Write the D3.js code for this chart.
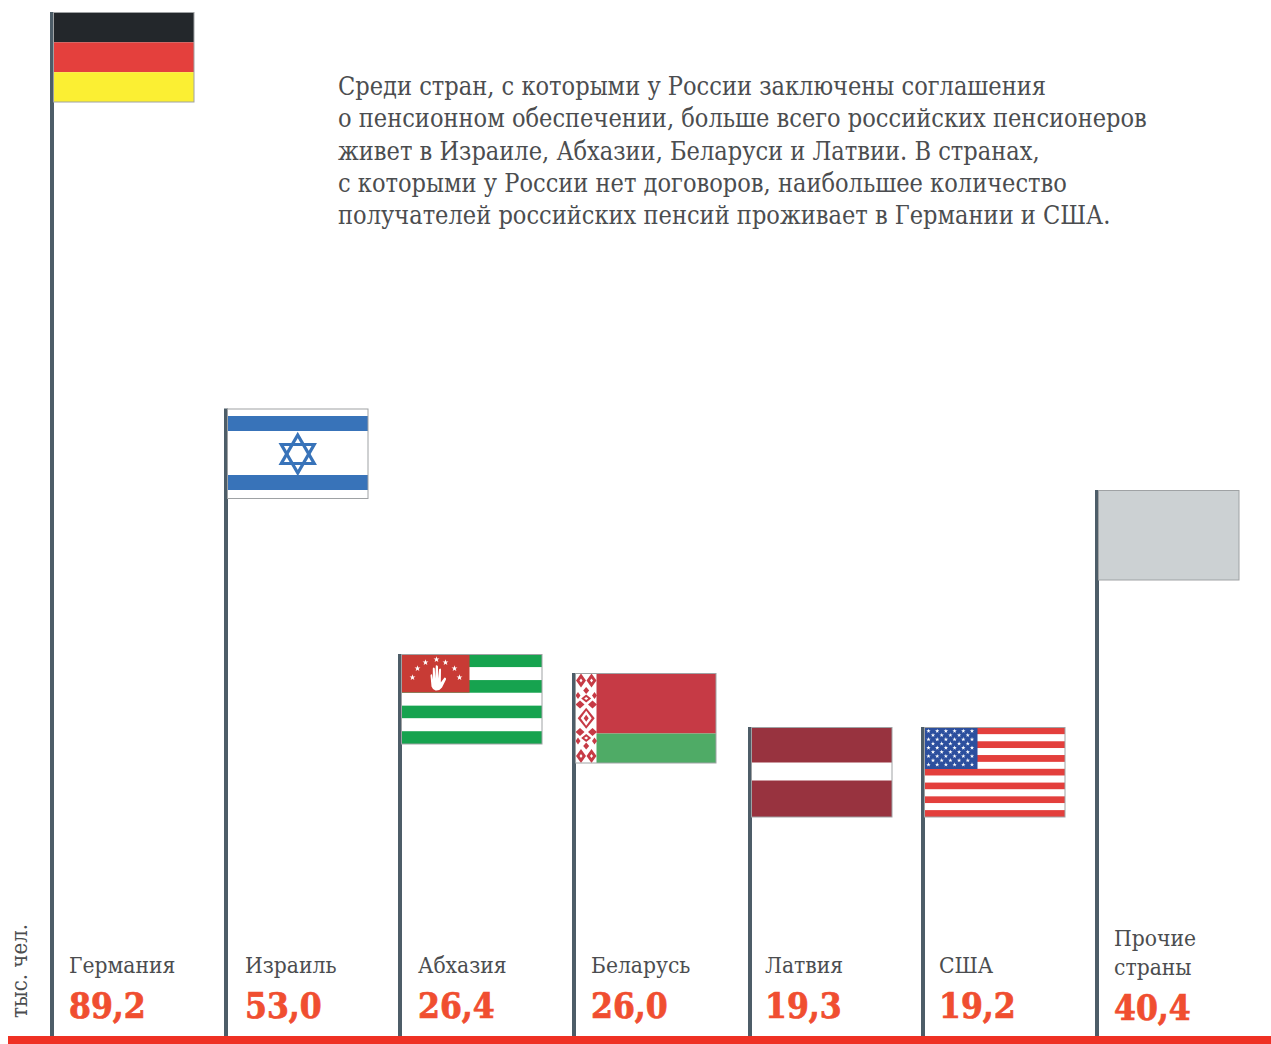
<!DOCTYPE html>
<html lang="ru">
<head>
<meta charset="utf-8">
<title>Российские пенсионеры за рубежом</title>
<script src="https://cdnjs.cloudflare.com/ajax/libs/d3/7.8.5/d3.min.js"></script>
<style>
  html, body { margin: 0; padding: 0; background: #fff; }
  svg { display: block; }
  .txt { font-family: "DejaVu Serif", serif; font-stretch: condensed; fill: #4b4d4f; }
  .val { font-family: "DejaVu Serif", serif; font-stretch: condensed; font-weight: 700; fill: #f04e30; stroke: #f04e30; stroke-width: 0.7px; font-size: 35px; }
</style>
</head>
<body>
<svg id="chart" width="1271" height="1044"></svg>
<script>
const categories = ['Германия', 'Израиль', 'Абхазия', 'Беларусь', 'Латвия', 'США', 'Прочие страны'];
const values = [89.2, 53.0, 26.4, 26.0, 19.3, 19.2, 40.4];
const valueLabels = ['89,2', '53,0', '26,4', '26,0', '19,3', '19,2', '40,4'];
const flagKeys = ['de', 'il', 'ab', 'by', 'lv', 'us', 'other'];
const unitLabel = 'тыс. чел.';
const introLines = [
  'Среди стран, с которыми у России заключены соглашения',
  'о пенсионном обеспечении, больше всего российских пенсионеров',
  'живет в Израиле, Абхазии, Беларуси и Латвии. В странах,',
  'с которыми у России нет договоров, наибольшее количество',
  'получателей российских пенсий проживает в Германии и США.'
];

const width = 1271, height = 1044;
const baseY = 1036;
const poleW = 4, flagW = 140.5, flagH = 89.5;

const svg = d3.select('#chart');

// the poles in the original are not strictly proportional, so the scale is piecewise
const y = d3.scaleLinear()
  .domain([0, 19.2, 19.3, 26.0, 26.4, 40.4, 53.0, 89.2])
  .range([baseY, 727, 727, 673, 654, 490, 408.5, 12]);

// pole spacing is slightly uneven in the original too
const x = d3.scaleOrdinal()
  .domain(categories)
  .range([52, 226, 400, 574, 750, 923, 1097]);

const labelX = d3.scaleOrdinal()
  .domain(categories)
  .range([69, 245, 418, 591, 765, 939, 1114]);

// intro text
svg.append('g').selectAll('text')
  .data(introLines)
  .enter().append('text')
  .attr('class', 'txt')
  .attr('x', 338)
  .attr('y', (d, i) => 95 + i * 32.3)
  .style('font-size', '25.1px')
  .text(d => d);

// unit
svg.append('text')
  .attr('class', 'txt')
  .attr('transform', 'translate(27,1018) rotate(-90)')
  .style('font-size', '22px')
  .text(unitLabel);

// poles
svg.append('g').selectAll('rect')
  .data(categories)
  .enter().append('rect')
  .attr('x', d => x(d) - poleW / 2)
  .attr('y', (d, i) => y(values[i]))
  .attr('width', poleW)
  .attr('height', (d, i) => baseY - y(values[i]))
  .attr('fill', '#4d5d68');

// baseline
svg.append('rect')
  .attr('x', 8).attr('y', baseY)
  .attr('width', width - 8).attr('height', height - baseY)
  .attr('fill', '#ef3124');

function stripes(g, colors) {
  const s = d3.scaleBand().domain(d3.range(colors.length)).range([0, flagH]);
  g.selectAll('rect.stripe')
    .data(colors)
    .enter().append('rect')
    .attr('class', 'stripe')
    .attr('x', 0)
    .attr('y', (d, i) => s(i))
    .attr('width', flagW)
    .attr('height', s.bandwidth())
    .attr('fill', d => d);
}

function diamond(d) {
  return `M${d[0]} ${d[1] - d[3]}L${d[0] + d[2]} ${d[1]}L${d[0]} ${d[1] + d[3]}L${d[0] - d[2]} ${d[1]}Z`;
}

const star = d3.symbol().type(d3.symbolStar);

const flags = {
  de(g) { stripes(g, ['#23272b', '#e4403d', '#fbef33']); },
  il(g) {
    g.append('rect').attr('width', flagW).attr('height', flagH).attr('fill', '#fff');
    g.selectAll('rect.b').data([7, 66]).enter().append('rect')
      .attr('class', 'b').attr('y', d => d).attr('width', flagW).attr('height', 15).attr('fill', '#3873b9');
    const tri = d3.line();
    const cx = flagW / 2, cy = 45, r = 19;
    [-90, 90].forEach(a0 => {
      const pts = [0, 120, 240].map(a => {
        const t = (a + a0) * Math.PI / 180;
        return [cx + r * Math.cos(t), cy + r * Math.sin(t)];
      });
      g.append('path').attr('d', tri(pts) + 'Z').attr('fill', 'none')
        .attr('stroke', '#3873b9').attr('stroke-width', 3.2);
    });
  },
  ab(g) {
    stripes(g, ['#16a34f', '#fff', '#16a34f', '#fff', '#16a34f', '#fff', '#16a34f']);
    g.append('rect').attr('width', 68).attr('height', 38).attr('fill', '#c83b35');
    const arc = [[11, 23], [16, 14], [24, 8], [35, 5], [44, 8], [53, 14], [58, 23]];
    g.selectAll('path.s').data(arc).enter().append('path')
      .attr('class', 's')
      .attr('d', star.size(11))
      .attr('transform', d => `translate(${d[0]},${d[1]})`)
      .attr('fill', '#fff');
    // hand
    g.append('path')
      .attr('d', 'M30 32 L29 21 Q29.5 19 30.5 20 L31.3 25 L31.3 14 Q32 12 33.3 14 L33.8 24 L34.3 11 Q35.5 10 36.5 12 L36.6 24 L37.5 15 Q39 13 39.5 15 L39.3 28 L43 23 Q45 23 44.5 25 L40.5 33 Q38 36.5 34 36 Q31 35 30 32 Z')
      .attr('fill', '#fff');
  },
  by(g) {
    g.append('rect').attr('width', flagW).attr('height', 60).attr('fill', '#c63a45');
    g.append('rect').attr('y', 60).attr('width', flagW).attr('height', flagH - 60).attr('fill', '#4fab66');
    const bw = 21, mid = flagH / 2;
    g.append('rect').attr('width', bw).attr('height', flagH).attr('fill', '#fff');
    // ornament: upper half is listed, lower half is its mirror image
    const red = [[5.5, 7, 5, 7], [16, 7, 5, 7], [10.7, 17, 3, 3.5], [2.5, 22, 2.5, 3.5], [19, 22, 2.5, 3.5],
                 [10.7, 25, 5, 4], [4.5, 31, 4.5, 4], [17, 31, 4.5, 4]];
    const white = [[5.5, 7, 1.5, 2], [16, 7, 1.5, 2], [10.7, 25, 2, 1.5]];
    const mirror = d => [d[0], 2 * mid - d[1], d[2], d[3]];
    const reds = red.concat(red.map(mirror), [[10.7, mid, 8.5, 10.5]]);
    const whites = white.concat(white.map(mirror), [[10.7, mid, 5.5, 7.5]]);
    g.selectAll('path.r').data(reds).enter().append('path')
      .attr('class', 'r').attr('d', diamond).attr('fill', '#c63a45');
    g.selectAll('path.w').data(whites).enter().append('path')
      .attr('class', 'w').attr('d', diamond).attr('fill', '#fff');
    g.append('path').attr('d', diamond([10.7, mid, 2.5, 3.5])).attr('fill', '#c63a45');
  },
  lv(g) {
    g.append('rect').attr('width', flagW).attr('height', flagH).attr('fill', '#98333f');
    g.append('rect').attr('y', 35).attr('width', flagW).attr('height', 18).attr('fill', '#fff');
  },
  us(g) {
    stripes(g, d3.range(13).map(i => i % 2 ? '#fff' : '#e33f3c'));
    g.append('rect').attr('width', 53).attr('height', 41.5).attr('fill', '#2c4f9e');
    const pts = [];
    d3.range(9).forEach(r => {
      const n = r % 2 ? 5 : 6;
      d3.range(n).forEach(c => pts.push([ (r % 2 ? 8.5 : 4) + c * 8.7, 3.5 + r * 4.2 ]));
    });
    g.selectAll('path.s').data(pts).enter().append('path')
      .attr('class', 's')
      .attr('d', star.size(6))
      .attr('transform', d => `translate(${d[0]},${d[1]})`)
      .attr('fill', '#fff');
  },
  other(g) {
    g.append('rect').attr('width', flagW).attr('height', flagH).attr('fill', '#ccd1d3');
  }
};

const flag = svg.append('g').selectAll('g')
  .data(categories)
  .enter().append('g')
  .attr('transform', (d, i) => `translate(${x(d) + 1.5},${y(values[i]) + 0.5})`);

flag.each(function (d, i) {
  const g = d3.select(this);
  flags[flagKeys[i]](g);
  g.append('rect')
    .attr('width', flagW).attr('height', flagH)
    .attr('fill', 'none').attr('stroke', '#9fa2a4').attr('stroke-width', 1);
});

// category names + values
const labels = svg.append('g').selectAll('g')
  .data(categories)
  .enter().append('g')
  .attr('transform', d => `translate(${labelX(d)},0)`);

labels.each(function (d, i) {
  const g = d3.select(this);
  const parts = d === 'Прочие страны' ? d.split(' ') : [d];
  g.selectAll('text.name').data(parts).enter().append('text')
    .attr('class', 'name txt')
    .attr('y', (p, j) => parts.length > 1 ? 946 + j * 29 : 973)
    .style('font-size', '22.6px')
    .text(p => p);
  g.append('text')
    .attr('class', 'val')
    .attr('y', parts.length > 1 ? 1020 : 1018)
    .text(valueLabels[i]);
});
</script>
</body>
</html>
